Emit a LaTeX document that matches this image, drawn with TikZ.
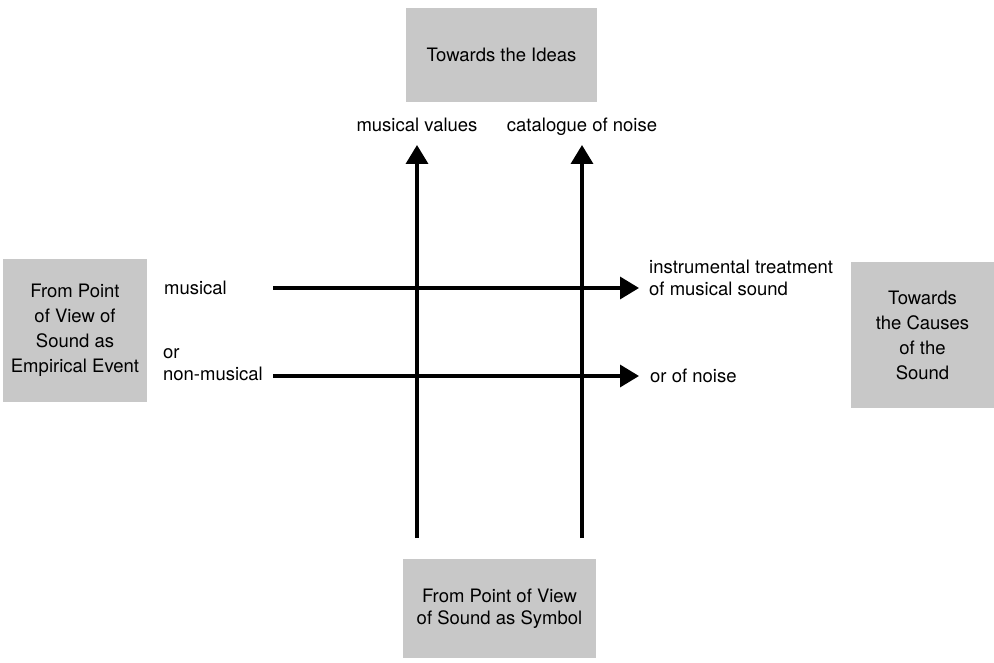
\documentclass[tikz,border=0pt]{standalone}
\usepackage{fontspec}
\setmainfont{TeX Gyre Heros}
\usepackage{xcolor}
\usepackage{tikz}
\usetikzlibrary{arrows.meta, positioning}
\definecolor{screen}{RGB}{200,200,200}
\tikzset{
    panel/.style={rectangle, fill=screen, text centered, align=center, inner sep=0pt, font=\fontsize{18.5}{25}\selectfont},
    axis/.style={-{Triangle[length=19pt,width=22pt]}, line width=3.5pt},
    tag/.style={inner sep=0pt, align=left, font=\fontsize{18.5}{22}\selectfont}
}

\begin{document}
\begin{tikzpicture}[
    x=1pt, y=-1pt,
    node distance=10pt
]
    \useasboundingbox (0,0) rectangle (994,663);

    % Panels
    \node[panel, minimum width=191pt, minimum height=94pt] (ideas) at (501.5,55) {Towards the Ideas};
    \node[panel, minimum width=144pt, minimum height=143pt] (empirical) at (75,330.5) {From Point\\of View of\\Sound as\\Empirical Event};
    \node[panel, minimum width=143pt, minimum height=146pt] (causes) at (922.5,335) {Towards\\the Causes\\of the\\Sound};
    \node[panel, minimum width=193pt, minimum height=99pt, font=\fontsize{18.5}{21.5}\selectfont] (symbol) at (499.5,608.5) {From Point of View\\of Sound as Symbol};

    % Arrow ends
    \coordinate (v1b) at (417,538);
    \coordinate (v1t) at (417,145);
    \coordinate (v2b) at (582,538);
    \coordinate (v2t) at (582,145);
    \coordinate (h1s) at (273,288);
    \coordinate (h1e) at (639,288);
    \coordinate (h2s) at (273,376);
    \coordinate (h2e) at (639,376);

    % Vertical arrows
    \draw[axis] (v1b) -- (v1t);
    \draw[axis] (v2b) -- (v2t);

    % Horizontal arrows
    \draw[axis] (h1s) -- (h1e);
    \draw[axis] (h2s) -- (h2e);

    % Labels
    \node[tag, above=13pt of v1t, anchor=base] (values) {musical values};
    \node[tag, above=13pt of v2t, anchor=base] (catalogue) {catalogue of noise};
    \node[tag, left=46pt of h1s] (musical) {musical};
    \node[tag, left=10pt of h2s, yshift=11pt] (nonmusical) {or\\non-musical};
    \node[tag, right=10pt of h1e, yshift=10.5pt] (treatment) {instrumental treatment\\of musical sound};
    \node[tag, right=11pt of h2e] (noise) {or of noise};
\end{tikzpicture}
\end{document}
